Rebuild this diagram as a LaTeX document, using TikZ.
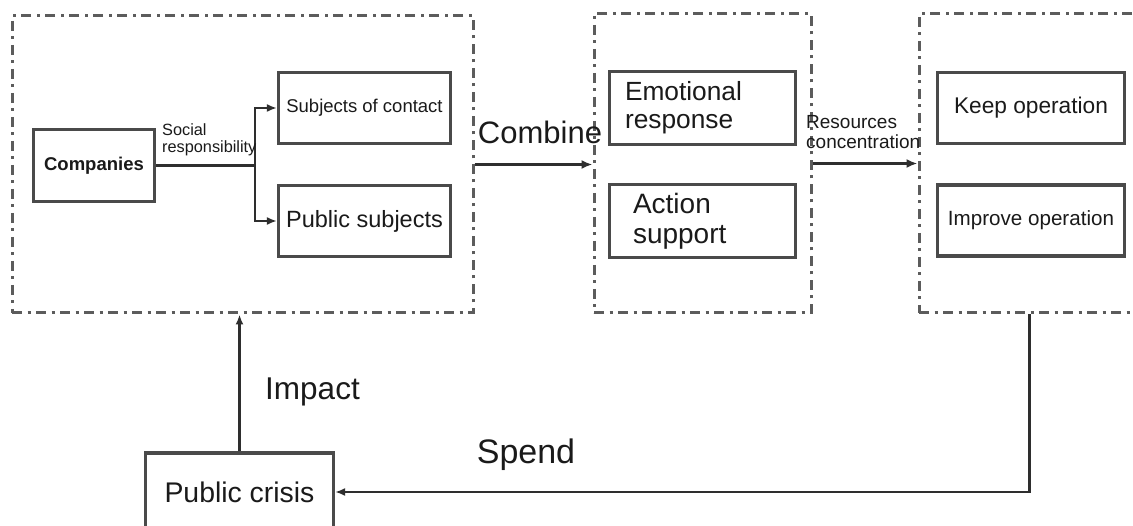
\documentclass[tikz,border=0pt]{standalone}
\usepackage{fontspec}
\setmainfont{Liberation Sans}
\usetikzlibrary{arrows.meta}
\definecolor{frame}{HTML}{5C5C5C}
\definecolor{edge}{HTML}{4A4A4A}
\definecolor{ink}{HTML}{1A1A1A}
\definecolor{wire}{HTML}{2E2E2E}
\tikzset{
  group/.style={
    draw=frame, line width=3pt,
    dash pattern=on 10pt off 5.5pt on 3pt off 5.5pt,
    inner sep=0pt
  },
  box/.style={
    draw=edge, line width=3.2pt, fill=white,
    inner sep=0pt, align=center, text=ink
  },
  arrow/.style={-{Latex[length=11pt,width=9pt]}, line width=3pt, draw=wire},
  thinarr/.style={-{Latex[length=10pt,width=8pt]}, line width=2.4pt, draw=wire}
  ,
  tag/.style={inner sep=0pt, text=ink, align=left}
}

\begin{document}
\begin{tikzpicture}[x=1pt, y=1pt,
    subbox/.style={box, minimum width=172pt, minimum height=71pt},
    midbox/.style={box, minimum width=186pt, minimum height=73pt},
    endbox/.style={box, minimum width=187pt, minimum height=71pt}
  ]
    \useasboundingbox (0,0) rectangle (1133,525);
    \fill[white] (0,0) rectangle (1133,525);
    % dash-dot frames
    \node[group, minimum width=461pt, minimum height=297pt] (g1) at (242.5,360.5) {};
    \node[group, minimum width=217pt, minimum height=299pt] (g2) at (702.5,361.5) {};
    \node[group, minimum width=221pt, minimum height=299pt] (g3) at (1029.5,361.5) {};
    % first frame
    \node[box, minimum width=121pt, minimum height=72pt, font=\fontsize{18.5pt}{21pt}\selectfont\bfseries] (companies) at (94,359.5) {Companies};
    \node[subbox, font=\fontsize{18.5pt}{21pt}\selectfont] (contact) at (364.5,417) {Subjects of contact};
    \node[subbox, font=\fontsize{23.5pt}{26pt}\selectfont] (public) at (364.5,304) {Public subjects};
    % second frame
    \node[midbox, text width=155pt, align=left, font=\fontsize{26.3pt}{28pt}\selectfont] (emotion) at (702.5,417) {Emotional\\response};
    \node[midbox, text width=139pt, align=left, font=\fontsize{28pt}{30pt}\selectfont] (action) at (702.5,304) {Action\\support};
    % third frame
    \node[endbox, font=\fontsize{22.7pt}{25pt}\selectfont] (keep) at (1031,417) {Keep operation};
    \node[endbox, font=\fontsize{20.6pt}{23pt}\selectfont] (improve) at (1031,304.5) {Improve operation};
    \node[box, minimum width=188pt, minimum height=78pt, font=\fontsize{28.4pt}{31pt}\selectfont] (crisis) at (239.5,33) {Public crisis};
    % connectors
    \coordinate (split) at (255,359.5);
    \draw[line width=3pt, draw=wire] (companies.east) -- (split);
    \draw[thinarr] (split) |- (contact.west);
    \draw[thinarr] (split) |- (public.west);
    \draw[arrow] (g1.east) -- (g1.east -| g2.west);
    \draw[arrow] (g2.east) -- (g2.east -| g3.west);
    \draw[thinarr] (crisis.north) -- (crisis.north |- g1.south);
    \draw[thinarr] (g3.south) |- (crisis.east);
    % labels
    \node[tag, anchor=west, font=\fontsize{16.3pt}{17pt}\selectfont] (social) at (162,385.5) {Social\\responsibility};
    \node[tag, font=\fontsize{31pt}{33pt}\selectfont] (combine) at (540,393) {Combine};
    \node[tag, anchor=west, font=\fontsize{19pt}{20pt}\selectfont] (resconc) at (806,393) {Resources\\concentration};
    \node[tag, font=\fontsize{31.5pt}{33pt}\selectfont] (impact) at (312.5,133) {Impact};
    \node[tag, font=\fontsize{34pt}{36pt}\selectfont] (spend) at (526,70) {Spend};
\end{tikzpicture}
\end{document}
